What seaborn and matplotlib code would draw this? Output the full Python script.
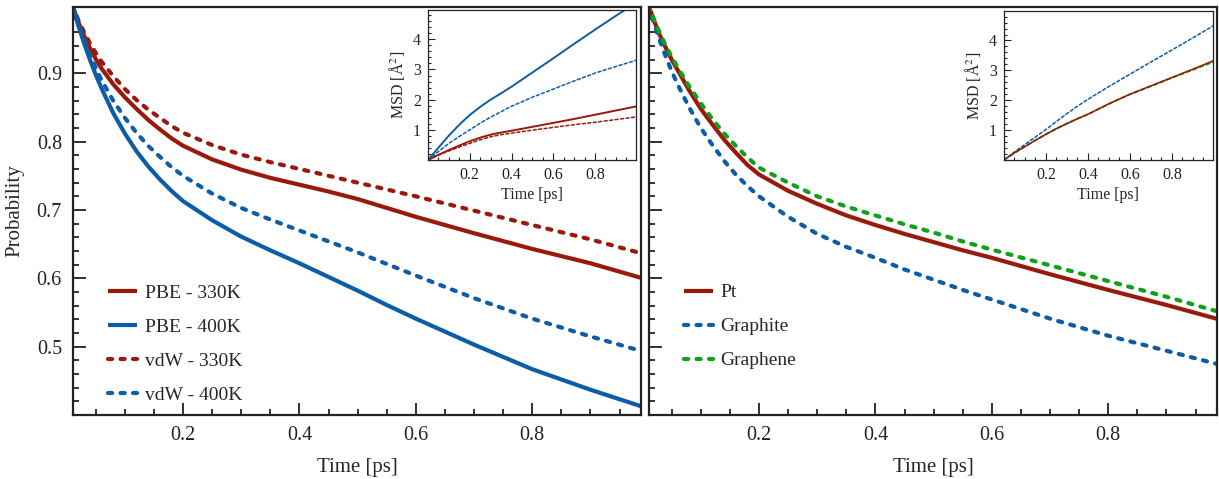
import numpy as np
import pandas as pd
import matplotlib
matplotlib.use("Agg")
import matplotlib.pyplot as plt
from matplotlib.ticker import MultipleLocator
import seaborn as sns

# survival probability curves
t = [0.01, 0.02, 0.03, 0.04, 0.05, 0.06, 0.08, 0.1, 0.12, 0.14, 0.16, 0.18, 0.2,
     0.25, 0.3, 0.35, 0.4, 0.45, 0.5, 0.55, 0.6, 0.7, 0.8, 0.9, 0.99]

pbe_330 = [1.0, 0.975, 0.955, 0.937, 0.921, 0.907, 0.884, 0.865, 0.848, 0.832, 0.818, 0.805, 0.794,
           0.774, 0.759, 0.747, 0.737, 0.727, 0.716, 0.703, 0.69, 0.666, 0.643, 0.622, 0.60]
pbe_400 = [1.0, 0.97, 0.944, 0.92, 0.898, 0.878, 0.842, 0.812, 0.786, 0.764, 0.745, 0.728, 0.713,
           0.685, 0.661, 0.641, 0.622, 0.602, 0.582, 0.561, 0.541, 0.503, 0.467, 0.437, 0.412]
vdw_330 = [1.0, 0.978, 0.96, 0.944, 0.93, 0.917, 0.896, 0.877, 0.861, 0.847, 0.835, 0.823, 0.813,
           0.795, 0.781, 0.77, 0.76, 0.75, 0.74, 0.73, 0.72, 0.699, 0.678, 0.657, 0.636]
vdw_400 = [1.0, 0.973, 0.95, 0.928, 0.908, 0.89, 0.86, 0.835, 0.813, 0.794, 0.778, 0.763, 0.75,
           0.724, 0.703, 0.686, 0.67, 0.654, 0.638, 0.621, 0.604, 0.571, 0.541, 0.515, 0.493]

pt = [1.0, 0.976, 0.955, 0.937, 0.92, 0.905, 0.875, 0.848, 0.825, 0.803, 0.784, 0.766, 0.752,
      0.728, 0.709, 0.692, 0.678, 0.665, 0.653, 0.641, 0.63, 0.606, 0.583, 0.561, 0.54]
graphite = [1.0, 0.972, 0.947, 0.924, 0.903, 0.884, 0.85, 0.82, 0.795, 0.772, 0.752, 0.735, 0.72,
            0.69, 0.665, 0.646, 0.63, 0.613, 0.598, 0.583, 0.569, 0.541, 0.516, 0.494, 0.474]
graphene = [1.0, 0.978, 0.958, 0.94, 0.924, 0.909, 0.881, 0.856, 0.833, 0.812, 0.794, 0.777, 0.762,
            0.74, 0.72, 0.705, 0.692, 0.679, 0.667, 0.654, 0.642, 0.619, 0.596, 0.573, 0.551]

# MSD insets
t_msd = [0.0, 0.05, 0.1, 0.15, 0.2, 0.25, 0.3, 0.35, 0.4, 0.5, 0.6, 0.7, 0.8, 0.9, 1.0]
msd_pbe_330 = [0.0, 0.17, 0.33, 0.48, 0.62, 0.74, 0.84, 0.91, 0.97, 1.1, 1.23, 1.36, 1.5, 1.64, 1.78]
msd_pbe_400 = [0.0, 0.41, 0.81, 1.17, 1.49, 1.76, 2.0, 2.21, 2.43, 2.9, 3.37, 3.85, 4.32, 4.78, 5.22]
msd_vdw_330 = [0.0, 0.16, 0.3, 0.43, 0.55, 0.67, 0.77, 0.84, 0.89, 0.99, 1.08, 1.17, 1.25, 1.34, 1.43]
msd_vdw_400 = [0.0, 0.28, 0.55, 0.78, 1.0, 1.22, 1.42, 1.6, 1.78, 2.08, 2.35, 2.62, 2.88, 3.1, 3.31]

msd_pt = [0.0, 0.24, 0.45, 0.66, 0.86, 1.05, 1.22, 1.38, 1.53, 1.88, 2.2, 2.48, 2.76, 3.04, 3.33]
msd_graphite = [0.0, 0.27, 0.52, 0.77, 1.02, 1.29, 1.55, 1.8, 2.03, 2.46, 2.87, 3.28, 3.68, 4.09, 4.5]
msd_graphene = [0.0, 0.24, 0.45, 0.66, 0.86, 1.05, 1.22, 1.38, 1.53, 1.88, 2.2, 2.47, 2.75, 3.02, 3.29]

RED = "#991a0c"
BLUE = "#0c5da5"
GREEN = "#12a01a"
DASH = (0, (1.0, 2.0))
FINE = (0, (2.0, 1.6))

sns.set_theme(style="white")
plt.rcParams["font.family"] = ["Liberation Serif", "DejaVu Serif"]
plt.rcParams["mathtext.fontset"] = "stix"
plt.rcParams["axes.edgecolor"] = "#222222"

fig = plt.figure(figsize=(12.19, 4.79), dpi=100)
ax1 = fig.add_axes([0.0599, 0.1336, 0.466, 0.8518])
ax2 = fig.add_axes([0.5324, 0.1336, 0.466, 0.8518], sharey=ax1)
in1 = fig.add_axes([0.3511, 0.666, 0.1706, 0.313])
in2 = fig.add_axes([0.8236, 0.666, 0.1715, 0.310])


def draw(ax, x, y, color, ls, lw, label=None):
    sns.lineplot(x=x, y=y, ax=ax, color=color, linestyle=ls, linewidth=lw,
                 label=label, dash_capstyle="round", solid_capstyle="butt",
                 legend=label is not None)


draw(ax1, t, pbe_330, RED, "-", 3.0, "PBE - 330K")
draw(ax1, t, pbe_400, BLUE, "-", 3.0, "PBE - 400K")
draw(ax1, t, vdw_330, RED, DASH, 3.0, "vdW - 330K")
draw(ax1, t, vdw_400, BLUE, DASH, 3.0, "vdW - 400K")

draw(ax2, t, pt, RED, "-", 3.0, "Pt")
draw(ax2, t, graphite, BLUE, DASH, 3.0, "Graphite")
draw(ax2, t, graphene, GREEN, DASH, 3.0, "Graphene")

draw(in1, t_msd, msd_pbe_330, RED, "-", 1.4)
draw(in1, t_msd, msd_pbe_400, BLUE, "-", 1.4)
draw(in1, t_msd, msd_vdw_330, RED, FINE, 1.1)
draw(in1, t_msd, msd_vdw_400, BLUE, FINE, 1.1)

draw(in2, t_msd, msd_graphite, BLUE, FINE, 1.1)
draw(in2, t_msd, msd_graphene, GREEN, FINE, 1.4)
draw(in2, t_msd, msd_pt, RED, "-", 1.1)

for ax, ly in ((ax1, -0.015), (ax2, 0.069)):
    ax.set_xlim(0.011, 0.987)
    ax.set_ylim(0.40, 0.997)
    ax.xaxis.set_major_locator(MultipleLocator(0.2))
    ax.xaxis.set_minor_locator(MultipleLocator(0.05))
    ax.yaxis.set_major_locator(MultipleLocator(0.1))
    ax.yaxis.set_minor_locator(MultipleLocator(0.02))
    ax.tick_params(which="both", direction="in", left=True, bottom=True,
                   top=False, right=False, labelsize=14.5, width=1.3, colors="#222222")
    ax.tick_params(which="major", length=9, pad=8)
    ax.tick_params(which="minor", length=4.5)
    for s in ax.spines.values():
        s.set_linewidth(1.6)
    ax.set_xlabel("Time [ps]", fontsize=15, labelpad=9)
    ax.set_ylabel("")
    ax.legend(loc="lower left", bbox_to_anchor=(0.03, ly), frameon=False,
              fontsize=14, handlelength=1.5, handletextpad=0.4, labelspacing=0.84)
ax1.set_ylabel("Probability", fontsize=15, labelpad=9)
ax1.set_yticks([0.5, 0.6, 0.7, 0.8, 0.9])
ax1.set_yticklabels(["0.5", "0.6", "0.7", "0.8", "0.9"])
ax2.tick_params(labelleft=False)

for ax in (in1, in2):
    ax.set_xlim(0.0, 0.996)
    ax.set_ylim(0.0, 4.97)
    ax.xaxis.set_minor_locator(MultipleLocator(0.05))
    ax.yaxis.set_minor_locator(MultipleLocator(0.2))
    ax.set_xticks([0.2, 0.4, 0.6, 0.8])
    ax.set_xticklabels(["0.2", "0.4", "0.6", "0.8"])
    ax.set_yticks([1, 2, 3, 4])
    ax.set_yticklabels(["1", "2", "3", "4"])
    ax.tick_params(which="both", direction="in", left=True, bottom=True,
                   top=False, right=False, labelsize=11.5, width=0.8, colors="#222222")
    ax.tick_params(which="major", length=5, pad=5)
    ax.tick_params(which="minor", length=2.5)
    for s in ax.spines.values():
        s.set_linewidth(0.9)
    ax.set_xlabel("Time [ps]", fontsize=11.5, labelpad=3)
    ax.set_ylabel(r"MSD [Å$^2$]", fontsize=11.5, labelpad=4)

fig.savefig("out.png", dpi=100)
